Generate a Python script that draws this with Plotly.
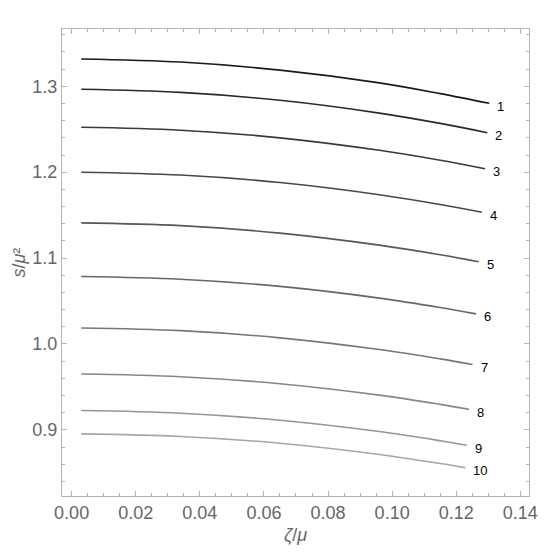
import plotly.graph_objects as go

# zeta/mu sample points shared by all curves, then the last point of each curve
zeta_grid = [0.003, 0.034, 0.065, 0.096, 0.115]
zeta_end = [0.1303, 0.1297, 0.1290, 0.1280, 0.1270, 0.1262, 0.1251, 0.1240, 0.1233, 0.1228]

# s/mu^2, one row per curve (last value at zeta_end)
s_curves = [
    [1.3318, 1.3282, 1.3188, 1.3040, 1.2915, 1.2802],
    [1.2965, 1.2929, 1.2837, 1.2688, 1.2568, 1.2460],
    [1.2523, 1.2489, 1.2400, 1.2255, 1.2139, 1.2040],
    [1.2000, 1.1967, 1.1880, 1.1738, 1.1624, 1.1534],
    [1.1410, 1.1378, 1.1291, 1.1151, 1.1039, 1.0957],
    [1.0786, 1.0754, 1.0670, 1.0534, 1.0424, 1.0350],
    [1.0186, 1.0155, 1.0071, 0.9935, 0.9826, 0.9760],
    [0.9650, 0.9619, 0.9537, 0.9404, 0.9297, 0.9240],
    [0.9225, 0.9194, 0.9112, 0.8980, 0.8873, 0.8820],
    [0.8953, 0.8923, 0.8844, 0.8713, 0.8608, 0.8560],
]
curve_labels = ["1", "2", "3", "4", "5", "6", "7", "8", "9", "10"]

fig = go.Figure()
n = len(s_curves)
for i, (s, xe, lab) in enumerate(zip(s_curves, zeta_end, curve_labels)):
    g = int(round(255 * (0.10 + 0.55 * i / (n - 1))))
    col = f"rgb({g},{g},{g})"
    xs = zeta_grid + [xe]
    fig.add_trace(go.Scatter(x=xs, y=s, mode="lines", line=dict(color=col, width=1.6),
                             line_shape="spline", showlegend=False, hoverinfo="skip"))
    fig.add_annotation(x=xe, y=s[-1], text=lab, showarrow=False, xanchor="left",
                       yanchor="middle", xshift=6, yshift=-3,
                       font=dict(family="Liberation Sans", size=13, color="black"))

axis_common = dict(
    showline=True, linecolor="#b4b4b4", linewidth=1, mirror="allticks",
    ticks="inside", ticklen=5, tickcolor="#b4b4b4", tickwidth=1,
    showgrid=False, zeroline=False,
    tickfont=dict(family="Liberation Sans", size=18, color="#666666"),
)

fig.update_xaxes(range=[-0.003, 0.1427], dtick=0.02, tick0=0, tickformat=".2f",
                 minor=dict(ticks="inside", ticklen=3, dtick=0.005, tickcolor="#b4b4b4"),
                 **axis_common)
fig.update_yaxes(range=[0.823, 1.3667], dtick=0.1, tick0=0.9, tickformat=".1f",
                 minor=dict(ticks="inside", ticklen=3, dtick=0.02, tickcolor="#b4b4b4"),
                 **axis_common)

fig.add_annotation(text="<i>ζ</i>/<i>μ</i>", xref="paper", yref="paper", x=0.5, y=-0.084,
                   showarrow=False, yanchor="middle",
                   font=dict(family="Liberation Sans", size=18, color="#666666"))
fig.add_annotation(text="<i>s</i>/<i>μ</i>²", xref="paper", yref="paper",
                   x=-0.094, y=0.5, textangle=-90, showarrow=False, xanchor="center",
                   yanchor="middle",
                   font=dict(family="Liberation Sans", size=18, color="#666666"))

# page adds an 8px body margin, so the figure is a bit smaller than the window
fig.update_layout(width=552, height=546, margin=dict(l=54, r=31, t=21, b=58),
                  plot_bgcolor="white", paper_bgcolor="white")
fig.write_html("out.html")
